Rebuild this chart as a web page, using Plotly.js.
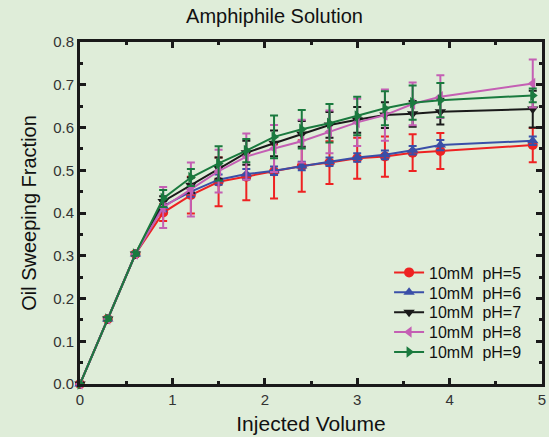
<!DOCTYPE html>
<html><head><meta charset="utf-8">
<script src="https://cdn.plot.ly/plotly-3.0.1.min.js"></script>
<style>html,body{margin:0;padding:0;background:#dfedd9;}</style>
</head><body><div id="chart" style="width:549px;height:437px;"></div>
<script>
const injected = [0, 0.3, 0.6, 0.9, 1.2, 1.5, 1.8, 2.1, 2.4, 2.7, 3.0, 3.3, 3.6, 3.9, 4.9];
const seriesNames = ["10mM\u00a0 pH=5", "10mM\u00a0 pH=6", "10mM\u00a0 pH=7", "10mM\u00a0 pH=8", "10mM\u00a0 pH=9"];
const ph5 = [0, 0.152, 0.304, 0.401, 0.442, 0.473, 0.485, 0.497, 0.510, 0.518, 0.528, 0.532, 0.541, 0.545, 0.559];
const ph6 = [0, 0.152, 0.304, 0.416, 0.450, 0.478, 0.491, 0.499, 0.510, 0.520, 0.530, 0.536, 0.547, 0.559, 0.569];
const ph7 = [0, 0.152, 0.304, 0.427, 0.465, 0.505, 0.541, 0.563, 0.585, 0.606, 0.618, 0.629, 0.632, 0.637, 0.643];
const ph8 = [0, 0.152, 0.304, 0.413, 0.455, 0.498, 0.532, 0.551, 0.568, 0.590, 0.612, 0.629, 0.655, 0.672, 0.703];
const ph9 = [0, 0.152, 0.304, 0.434, 0.483, 0.516, 0.546, 0.578, 0.596, 0.610, 0.627, 0.645, 0.658, 0.664, 0.675];
const err5 = [0, 0.004, 0.004, 0.02, 0.043, 0.057, 0.055, 0.063, 0.06, 0.05, 0.048, 0.047, 0.043, 0.042, 0.04];
const err6 = [0, 0.004, 0.004, 0.012, 0.012, 0.012, 0.012, 0.01, 0.01, 0.01, 0.01, 0.01, 0.01, 0.012, 0.01];
const err7 = [0, 0.004, 0.004, 0.012, 0.018, 0.025, 0.028, 0.03, 0.03, 0.03, 0.03, 0.03, 0.03, 0.03, 0.043];
const err8 = [0, 0.004, 0.004, 0.048, 0.063, 0.05, 0.054, 0.055, 0.05, 0.05, 0.055, 0.06, 0.05, 0.05, 0.056];
const err9 = [0, 0.004, 0.004, 0.02, 0.02, 0.04, 0.027, 0.05, 0.045, 0.045, 0.045, 0.04, 0.04, 0.04, 0.016];
const colors = ["#ee2222", "#3a4fa8", "#1a1a1a", "#c45fb4", "#1a7a3e"];
const symbols = ["circle", "triangle-up", "triangle-down", "triangle-left", "triangle-right"];

const ys = [ph5, ph6, ph7, ph8, ph9];
const errs = [err5, err6, err7, err8, err9];
const legendIds = ["legend", "legend2", "legend3", "legend4", "legend5"];
const traces = ys.map((y, i) => ({
  x: injected, y: y, name: seriesNames[i], type: "scatter", mode: "lines+markers",
  legend: legendIds[i],
  line: {color: colors[i], width: 2},
  marker: {color: colors[i], symbol: symbols[i], size: 10},
  error_y: {type: "data", array: errs[i], visible: true, color: colors[i], thickness: 2, width: 4},
  cliponaxis: false
}));

const font = "Arial, 'Liberation Sans', sans-serif";
const axisCommon = {
  showline: true, linecolor: "#1a1a1a", linewidth: 3, mirror: "allticks",
  ticks: "inside", ticklen: 6, tickwidth: 3, tickcolor: "#1a1a1a",
  showgrid: false, zeroline: false,
  tickfont: {family: font, size: 15, color: "#333333"}
};
const layout = {
  width: 549, height: 437,
  paper_bgcolor: "#dfedd9", plot_bgcolor: "#dfedd9",
  margin: {l: 80, r: 7, t: 42, b: 53},
  title: {text: "Amphiphile Solution", font: {family: font, size: 20, color: "#111"}, x: 0.5, xanchor: "center", y: 0.979, yanchor: "top"},
  xaxis: Object.assign({}, axisCommon, {
    range: [0, 5], dtick: 1, tick0: 0,
    minor: {dtick: 0.5, ticks: "inside", ticklen: 3, tickwidth: 3, tickcolor: "#1a1a1a"},
    title: {text: "Injected Volume", font: {family: font, size: 21, color: "#111"}, standoff: 10}
  }),
  yaxis: Object.assign({}, axisCommon, {
    range: [0, 0.8], dtick: 0.1, tick0: 0, tickformat: ".1f",
    minor: {dtick: 0.05, ticks: "inside", ticklen: 3, tickwidth: 3, tickcolor: "#1a1a1a"},
    title: {text: "Oil Sweeping Fraction", font: {family: font, size: 20, color: "#111"}, standoff: 12}
  }),
  showlegend: true
};
// one legend box per entry so the row spacing can follow the reference
const plotTop = 42, plotH = 342;
legendIds.forEach((id, i) => {
  const rowCenter = 272 + 19.9 * i;
  layout[id] = {
    x: 0.669, y: (plotTop + plotH - (rowCenter - 16.5)) / plotH,
    xanchor: "left", yanchor: "top", bgcolor: "rgba(0,0,0,0)",
    font: {family: font, size: 16, color: "#111"}
  };
});
Plotly.newPlot("chart", traces, layout, {displayModeBar: false, staticPlot: true});
</script></body></html>
